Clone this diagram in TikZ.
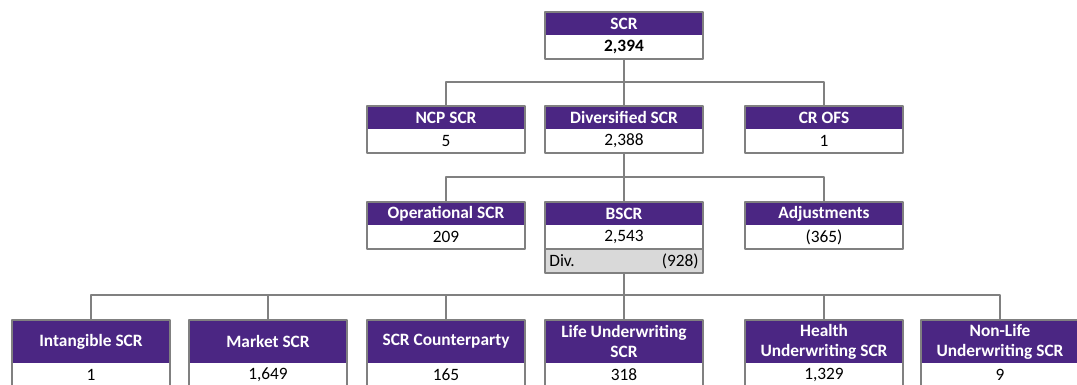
\documentclass[tikz,border=0pt]{standalone}
\usepackage{fontspec}
\setmainfont{Carlito}
\usetikzlibrary{positioning}
\definecolor{scrpurple}{RGB}{75,38,131}
\definecolor{framegray}{RGB}{128,128,128}
\definecolor{divgray}{RGB}{217,217,217}
\newcommand\boxfont{\fontsize{13}{15}\selectfont}
\tikzset{
  hdr/.style={fill=scrpurple, text=white, font=\boxfont\bfseries, minimum width=118.5pt,
    minimum height=17.25pt, inner sep=0pt, outer sep=0pt, anchor=north, align=center},
  tallhdr/.style={hdr, minimum height=32.25pt},
  val/.style={fill=white, font=\boxfont, minimum width=118.5pt, minimum height=18pt,
    inner sep=0pt, outer sep=0pt},
  divrow/.style={fill=divgray, font=\boxfont, minimum height=18pt, text width=112pt,
    inner xsep=3.25pt, inner ysep=0pt, outer sep=0pt},
  frame/.style={draw=framegray, line width=2pt},
  conn/.style={draw=framegray, line width=1.8pt},
}

\begin{document}
\begin{tikzpicture}[x=0.75pt, y=-0.75pt, line join=round]
    \useasboundingbox (0,0) rectangle (1077,385);
    \clip (0,0) rectangle (1077,385);

    \node[hdr] (scr) at (624,12) {SCR};
    \node[val, below=0pt of scr, font=\boxfont\bfseries] (scrv) {2,394};

    \node[hdr] (ncp) at (446,106) {NCP SCR};
    \node[val, below=0pt of ncp] (ncpv) {5};
    \node[hdr] (dscr) at (624,106) {Diversified SCR};
    \node[val, below=0pt of dscr] (dscrv) {2,388};
    \node[hdr] (crofs) at (824,106) {CR OFS};
    \node[val, below=0pt of crofs] (crofsv) {1};

    \node[hdr] (opscr) at (446,202) {Operational SCR};
    \node[val, below=0pt of opscr] (opscrv) {209};
    \node[hdr] (bscr) at (624,202) {BSCR};
    \node[val, below=0pt of bscr] (bscrv) {2,543};
    \node[divrow, below=0pt of bscrv] (bdiv) {Div.\hfill(928)};
    \node[hdr] (adj) at (824,202) {Adjustments};
    \node[val, below=0pt of adj] (adjv) {(365)};

    \node[tallhdr] (intang) at (91,320) {Intangible SCR};
    \node[val, below=0pt of intang] (intangv) {1};
    \node[tallhdr] (market) at (268,320) {Market SCR};
    \node[val, below=0pt of market] (marketv) {1,649};
    \node[tallhdr] (cpty) at (446,320) {SCR Counterparty};
    \node[val, below=0pt of cpty] (cptyv) {165};
    \node[tallhdr] (life) at (624,320) {Life Underwriting\\SCR};
    \node[val, below=0pt of life] (lifev) {318};
    \node[tallhdr] (health) at (824,320) {Health\\Underwriting SCR};
    \node[val, below=0pt of health] (healthv) {1,329};
    \node[tallhdr] (nonlife) at (1000,320) {Non-Life\\Underwriting SCR};
    \node[val, below=0pt of nonlife] (nonlifev) {9};

    \coordinate (busa) at (624,82);
    \coordinate (busb) at (624,177);
    \coordinate (busc) at (624,295);
    \draw[conn] (scrv.south) -- (dscr.north);
    \draw[conn] (ncp.north) |- (busa) -| (crofs.north);
    \draw[conn] (dscrv.south) -- (bscr.north);
    \draw[conn] (opscr.north) |- (busb) -| (adj.north);
    \draw[conn] (bdiv.south) -- (life.north);
    \draw[conn] (intang.north) |- (busc) -| (nonlife.north);
    \foreach \n in {market, cpty, health}
        \draw[conn] (\n.north) |- (busc);

    \foreach \a/\b in {scr/scrv, ncp/ncpv, dscr/dscrv, crofs/crofsv, opscr/opscrv,
        bscr/bdiv, adj/adjv, intang/intangv, market/marketv, cpty/cptyv,
        life/lifev, health/healthv, nonlife/nonlifev}
        \draw[frame] (\a.north west) rectangle (\b.south east);
    \draw[frame] (bscrv.south west) -- (bscrv.south east);

\end{tikzpicture}
\end{document}
